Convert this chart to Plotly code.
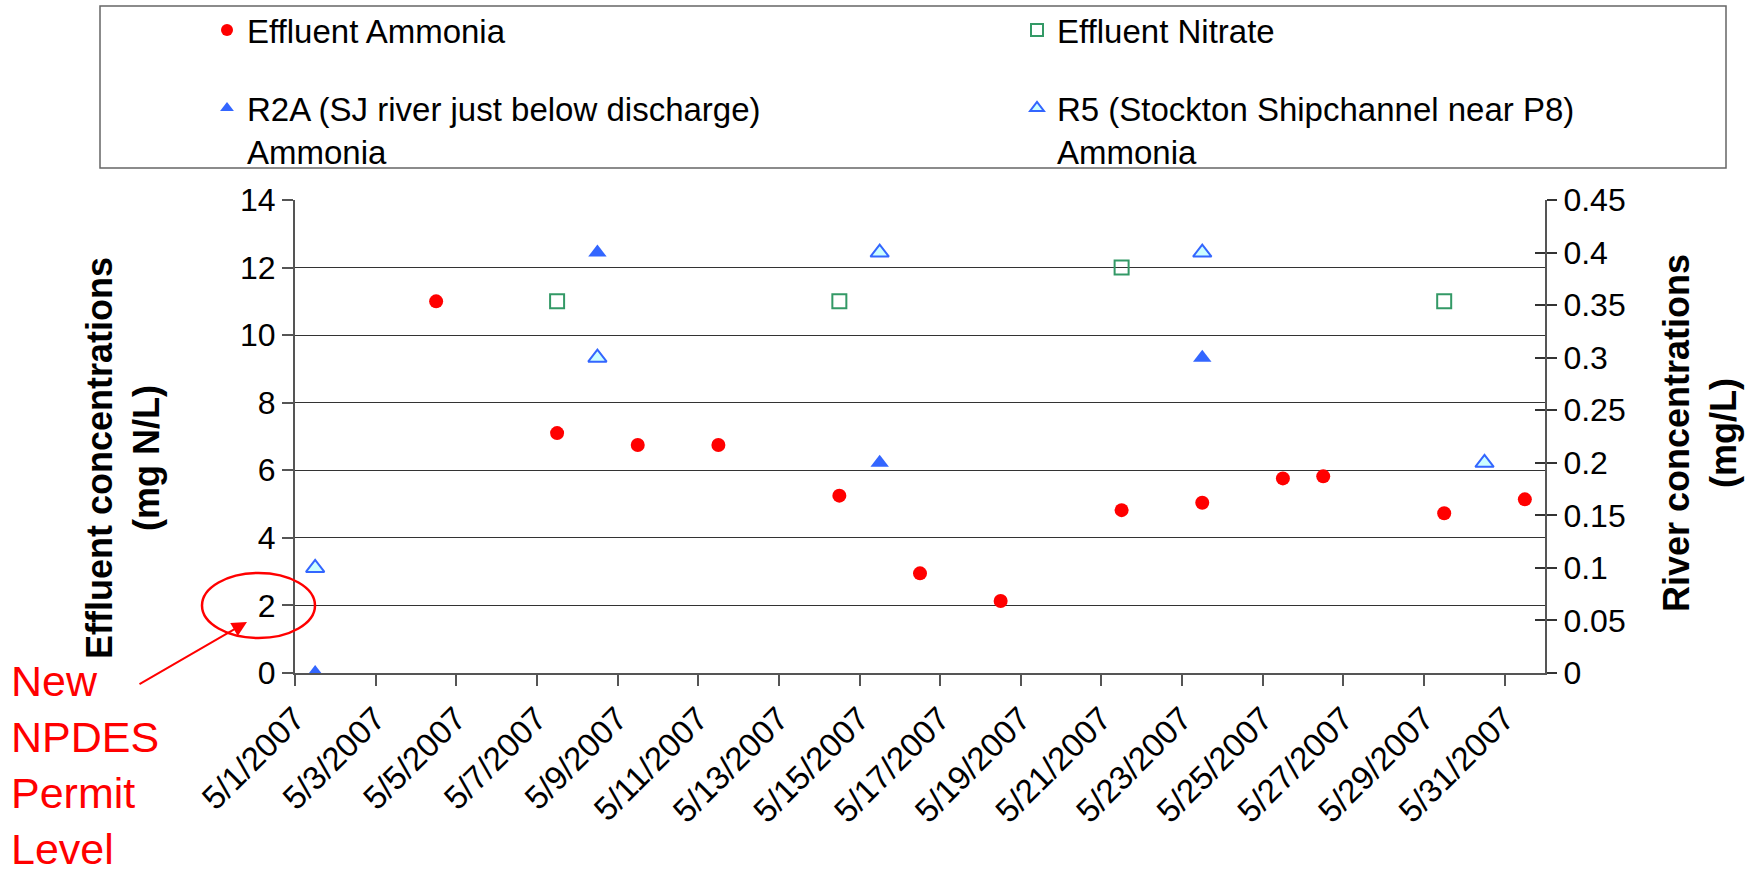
import pandas as pd
import plotly.graph_objects as go

# ---- data -------------------------------------------------------------
amm_dates = ["2007-05-04", "2007-05-07", "2007-05-09", "2007-05-11", "2007-05-14",
             "2007-05-16", "2007-05-18", "2007-05-21", "2007-05-23", "2007-05-25",
             "2007-05-26", "2007-05-29", "2007-05-31"]
amm_vals = [11.0, 7.1, 6.75, 6.75, 5.25, 2.95, 2.13, 4.82, 5.04, 5.76, 5.82, 4.73, 5.14]

nit_dates = ["2007-05-07", "2007-05-14", "2007-05-21", "2007-05-29"]
nit_vals = [11.0, 11.0, 12.0, 11.0]

r2a_dates = ["2007-05-01", "2007-05-08", "2007-05-15", "2007-05-23"]
r2a_vals = [0.0, 0.4, 0.2, 0.3]

r5_dates = ["2007-05-01", "2007-05-08", "2007-05-15", "2007-05-23", "2007-05-30"]
r5_vals = [0.1, 0.3, 0.4, 0.4, 0.2]

left_ticks = [0, 2, 4, 6, 8, 10, 12, 14]
right_ticks = [0, 0.05, 0.1, 0.15, 0.2, 0.25, 0.3, 0.35, 0.4, 0.45]
right_labels = ["0", "0.05", "0.1", "0.15", "0.2", "0.25", "0.3", "0.35", "0.4", "0.45"]

# ---- layout geometry (pixels) -----------------------------------------
W, H = 1748, 876
L, R, T, B = 295, 1545, 200, 673
FONT = "Liberation Sans, Arial, sans-serif"


def px_x(p):
    return (p - L) / (R - L)


def px_y(p):
    return (B - p) / (B - T)


def mid_day(dates):
    # each daily value sits in the middle of its day slot
    return pd.to_datetime(dates) + pd.Timedelta(hours=12)


fig = go.Figure()

fig.add_trace(go.Scatter(
    x=mid_day(amm_dates), y=amm_vals, mode="markers", name="Effluent Ammonia",
    marker=dict(symbol="circle", size=14, color="#FF0000"), yaxis="y", legend="legend"))
fig.add_trace(go.Scatter(
    x=mid_day(nit_dates), y=nit_vals, mode="markers", name="Effluent Nitrate",
    marker=dict(symbol="square-open", size=14, color="#339966", line=dict(width=2)),
    yaxis="y", legend="legend2"))
fig.add_trace(go.Scatter(
    x=mid_day(r2a_dates), y=r2a_vals, mode="markers",
    name="R2A (SJ river just below discharge)<br>Ammonia",
    marker=dict(symbol="triangle-up", size=16, color="#3366FF"), yaxis="y2", legend="legend3"))
fig.add_trace(go.Scatter(
    x=mid_day(r5_dates), y=r5_vals, mode="markers",
    name="R5 (Stockton Shipchannel near P8)<br>Ammonia",
    marker=dict(symbol="triangle-up", size=16, color="#CCFFFF",
                line=dict(color="#3366FF", width=2)), yaxis="y2", legend="legend4"))
# carrier for the inner half of the right-hand cross ticks
fig.add_trace(go.Scatter(x=[None], y=[None], yaxis="y3", showlegend=False, hoverinfo="skip"))

axis_font = dict(family=FONT, size=32, color="black")
legend_common = dict(
    orientation="v", xref="paper", yref="paper", xanchor="left", yanchor="top",
    bgcolor="rgba(0,0,0,0)", borderwidth=0, valign="top",
    font=dict(family=FONT, size=33, color="black"), itemsizing="constant",
    itemclick=False, itemdoubleclick=False,
)
col1, col2 = 207, 1017
row1, row2 = 2, 80

fig.update_layout(
    width=W, height=H,
    margin=dict(l=L, r=W - R, t=T, b=H - B, pad=0, autoexpand=False),
    paper_bgcolor="white", plot_bgcolor="white",
    font=dict(family=FONT, color="black"),
    showlegend=True,
    legend=dict(x=px_x(col1), y=px_y(row1), **legend_common),
    legend2=dict(x=px_x(col2), y=px_y(row1), **legend_common),
    legend3=dict(x=px_x(col1), y=px_y(row2), **legend_common),
    legend4=dict(x=px_x(col2), y=px_y(row2), **legend_common),
    xaxis=dict(
        type="date", range=["2007-05-01", "2007-06-01"],
        tick0="2007-05-01", dtick=2 * 86400000, tickformat="%-m/%-d/%Y",
        tickangle=-45, tickfont=dict(family=FONT, size=33, color="black"),
        ticks="outside", ticklen=11, tickcolor="#555", tickwidth=1.5,
        showline=True, linecolor="#555", linewidth=2, showgrid=False, zeroline=False,
    ),
    yaxis=dict(
        range=[0, 14], tickvals=left_ticks, tickfont=axis_font,
        ticks="outside", ticklen=11, tickcolor="#555", tickwidth=1.5,
        showline=True, linecolor="#555", linewidth=2,
        showgrid=True, gridcolor="#333", gridwidth=1.3, zeroline=False,
    ),
    yaxis2=dict(
        range=[0, 0.45], tickvals=right_ticks, ticktext=right_labels, tickfont=axis_font,
        overlaying="y", side="right", anchor="x",
        ticks="outside", ticklen=10, tickcolor="#333", tickwidth=1.5,
        showline=True, linecolor="#555", linewidth=2, showgrid=False, zeroline=False,
    ),
    yaxis3=dict(
        range=[0, 0.45], tickvals=right_ticks, overlaying="y", side="right", anchor="x",
        ticks="inside", ticklen=10, tickcolor="#333", tickwidth=1.5,
        showticklabels=False, showline=False, showgrid=False, zeroline=False,
    ),
)

# legend frame
fig.add_shape(type="rect", xref="paper", yref="paper",
              x0=px_x(100), x1=px_x(1726), y0=px_y(168), y1=px_y(6),
              line=dict(color="#666", width=1.5), fillcolor="rgba(0,0,0,0)", layer="above")

# permit-level marker around the 2 mg N/L label
fig.add_shape(type="circle", xref="paper", yref="paper",
              x0=px_x(202), x1=px_x(315), y0=px_y(638), y1=px_y(573),
              line=dict(color="#FF0000", width=2.5), layer="above")

# axis titles
fig.add_annotation(text="<b>Effluent concentrations<br>(mg N/L)</b>", textangle=-90,
                   xref="paper", yref="paper", x=px_x(123), y=px_y(458),
                   xanchor="center", yanchor="middle", showarrow=False,
                   font=dict(family=FONT, size=36, color="black"))
fig.add_annotation(text="<b>River concentrations<br>(mg/L)</b>", textangle=-90,
                   xref="paper", yref="paper", x=px_x(1700), y=px_y(433),
                   xanchor="center", yanchor="middle", showarrow=False,
                   font=dict(family=FONT, size=36, color="black"))

# permit note and arrow
fig.add_annotation(text="New<br>NPDES<br>Permit<br>Level", align="left",
                   xref="paper", yref="paper", x=px_x(9), y=px_y(765),
                   xanchor="left", yanchor="middle", showarrow=False,
                   font=dict(family=FONT, size=43, color="#FF0000"))
fig.add_annotation(text="", xref="paper", yref="paper", x=px_x(247), y=px_y(622),
                   ax=-109, ay=63, showarrow=True, arrowhead=2, arrowsize=1.5,
                   arrowwidth=2, arrowcolor="#FF0000")

fig.write_html("out.html")
